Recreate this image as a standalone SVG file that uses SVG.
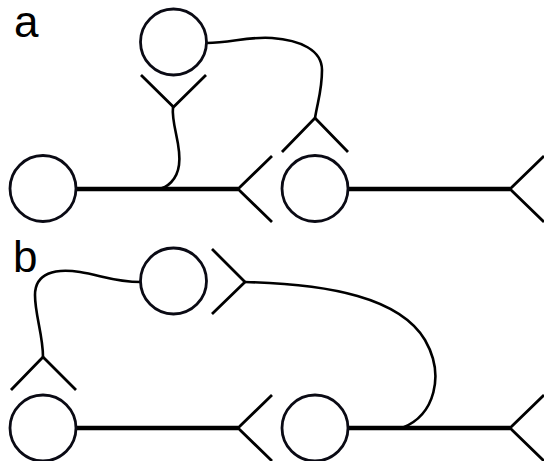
<svg xmlns="http://www.w3.org/2000/svg" width="544" height="461" viewBox="0 0 544 461">
<style>
.node{fill:none;stroke:#0a0a14;stroke-width:2.8}
.arm{fill:none;stroke:#000;stroke-width:2.8}
.main{fill:none;stroke:#000;stroke-width:4.5}
.wire{fill:none;stroke:#000;stroke-width:2.6}
.lbl{font-family:"Liberation Sans",Arial,sans-serif;font-size:44px;fill:#000}
</style>
<rect width="544" height="461" fill="#fff"/>
<text class="lbl" x="14" y="37">a</text>
<text class="lbl" x="13" y="272">b</text>
<g id="connectors">
<path class="main" d="M76,189 H238"/>
<path class="main" d="M348,189 H510"/>
<path class="main" d="M76,428 H238"/>
<path class="main" d="M348,428 H510"/>
<path class="wire" d="M173,107 C171,125 182,145 179,165 C177,180 167,188 158,189"/>
<path class="wire" d="M207,43 C230,43 250,36 272,38 C300,40 322,50 322,70 C322,90 318,100 315,118"/>
<path class="wire" d="M141,282 C115,282 100,275 80,272 C55,268 35,273 35,295 C35,315 43,335 43,357"/>
<path class="wire" d="M245,282 C330,284 400,298 425,340 C445,375 435,415 402,428"/>
</g>
<g id="a-left"><circle class="node" cx="43" cy="188.5" r="33"/></g>
<g id="a-left-receptor"><path class="arm" d="M272,156 L238,189 L272,222"/></g>
<g id="a-top"><circle class="node" cx="173.5" cy="42" r="33"/></g>
<g id="a-top-receptor"><path class="arm" d="M141,75 L173.5,107 L206,75"/></g>
<g id="a-right-receptor-top"><path class="arm" d="M282,152 L315,118 L348,152"/></g>
<g id="a-right"><circle class="node" cx="315" cy="188.5" r="33"/></g>
<g id="a-right-receptor"><path class="arm" d="M544,156 L510,189 L544,222"/></g>
<g id="b-top"><circle class="node" cx="173.5" cy="281" r="33"/></g>
<g id="b-top-receptor"><path class="arm" d="M212,249 L245,282 L212,314"/></g>
<g id="b-left-receptor-top"><path class="arm" d="M11,390 L43,357 L76,390"/></g>
<g id="b-left"><circle class="node" cx="43" cy="428" r="33"/></g>
<g id="b-left-receptor"><path class="arm" d="M272,395 L238,428 L272,461"/></g>
<g id="b-right"><circle class="node" cx="315" cy="428" r="33"/></g>
<g id="b-right-receptor"><path class="arm" d="M544,395 L510,428 L544,461"/></g>
</svg>
